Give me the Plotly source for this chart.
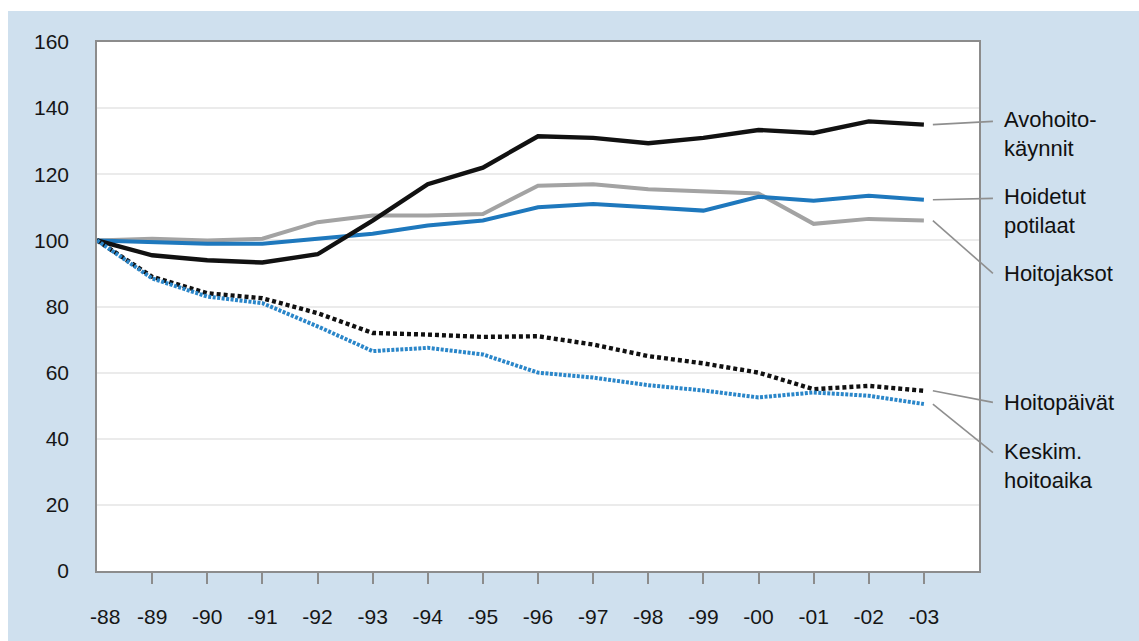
import plotly.graph_objects as go

# Index series, 1988 = 100
years = list(range(1988, 2004))
year_labels = ["-88", "-89", "-90", "-91", "-92", "-93", "-94", "-95",
               "-96", "-97", "-98", "-99", "-00", "-01", "-02", "-03"]

avohoitokaynnit = [100, 95.5, 94, 93.3, 95.8, 106, 117, 122,
                   131.5, 131, 129.4, 131, 133.4, 132.5, 136, 135]
hoidetut_potilaat = [100, 99.5, 99, 99, 100.5, 102, 104.5, 106,
                     110, 111, 110, 109, 113.2, 112, 113.5, 112.3]
hoitojaksot = [100, 100.5, 100, 100.5, 105.5, 107.5, 107.5, 108,
               116.5, 117, 115.5, 114.8, 114.2, 105, 106.5, 106]
hoitopaivat = [100, 89, 84, 82.5, 78, 72, 71.5, 70.8,
               71, 68.5, 65, 62.8, 60, 55, 56, 54.5]
keskim_hoitoaika = [100, 88.5, 83, 81, 74, 66.5, 67.5, 65.5,
                    60, 58.5, 56.2, 54.6, 52.5, 54, 53, 50.5]

# Right-hand series labels and the y level (data units) of each label's first line
label_texts = ["Avohoito-<br>käynnit", "Hoidetut<br>potilaat", "Hoitojaksot",
               "Hoitopäivät", "Keskim.<br>hoitoaika"]
label_levels = [136, 112.7, 90, 51, 35.8]

W, H = 1139, 641
M_L, M_R, M_T, M_B = 97, 160, 42, 70
X_RANGE = [1988, 2004]
Y_RANGE = [0, 160]
PLOT_W = W - M_L - M_R
PLOT_H = H - M_T - M_B

BLUE_BG = "#cfe0ee"
AXIS_GREY = "#8c8c8c"
FONT = "Liberation Sans, Arial, Helvetica, sans-serif"
TEXT_COLOR = "#161616"

fig = go.Figure()

series = [
    (hoitojaksot, dict(color="#a3a3a3", width=4)),
    (hoidetut_potilaat, dict(color="#1e78bd", width=4)),
    (avohoitokaynnit, dict(color="#111111", width=4.4)),
    (hoitopaivat, dict(color="#111111", width=4.4, dash="4px,3px")),
    (keskim_hoitoaika, dict(color="#2a86c9", width=4, dash="3px,1.5px")),
]
for values, line in series:
    fig.add_trace(go.Scatter(x=years, y=values, mode="lines", line=line,
                             hoverinfo="skip", showlegend=False))


def to_paper_x(xv):
    return (xv - X_RANGE[0]) / (X_RANGE[1] - X_RANGE[0])


label_x = 1.026
line_h_units = 26 / PLOT_H * (Y_RANGE[1] - Y_RANGE[0])
ends = [avohoitokaynnit[-1], hoidetut_potilaat[-1], hoitojaksot[-1],
        hoitopaivat[-1], keskim_hoitoaika[-1]]
shapes = []
annotations = []
for text, level, end in zip(label_texts, label_levels, ends):
    n_lines = text.count("<br>") + 1
    annotations.append(dict(
        x=label_x, xref="paper", y=level - (n_lines - 1) * line_h_units / 2,
        yref="y", text=text, showarrow=False, xanchor="left",
        yanchor="middle", align="left",
        font=dict(family=FONT, size=22, color="#111111")))
    # thin grey leader from the series end to its label
    shapes.append(dict(
        type="line", xref="paper", yref="y",
        x0=to_paper_x(years[-1]) + 9 / PLOT_W, y0=end,
        x1=label_x - 9 / PLOT_W, y1=level,
        line=dict(color="#8f8f8f", width=1.6)))

# the first year sits on the y axis, so it gets no tick and a nudged label
annotations.append(dict(
    x=years[0], xref="x", y=0, yref="paper", text=year_labels[0],
    showarrow=False, xanchor="center", yanchor="middle",
    xshift=8, yshift=-45, font=dict(family=FONT, size=21, color=TEXT_COLOR)))

# white strips along the top and left edge of the page
shapes.append(dict(type="rect", xref="paper", yref="paper", layer="below",
                   x0=-M_L / PLOT_W, x1=-(M_L - 8) / PLOT_W,
                   y0=-M_B / PLOT_H, y1=(PLOT_H + M_T) / PLOT_H,
                   fillcolor="white", line=dict(width=0)))
shapes.append(dict(type="rect", xref="paper", yref="paper", layer="below",
                   x0=-M_L / PLOT_W, x1=(PLOT_W + M_R) / PLOT_W,
                   y0=(PLOT_H + M_T - 11) / PLOT_H, y1=(PLOT_H + M_T) / PLOT_H,
                   fillcolor="white", line=dict(width=0)))

fig.update_layout(
    width=W, height=H, autosize=False,
    margin=dict(l=M_L, r=M_R, t=M_T, b=M_B, pad=0),
    paper_bgcolor=BLUE_BG, plot_bgcolor="white",
    font=dict(family=FONT, size=21, color=TEXT_COLOR),
    shapes=shapes, annotations=annotations,
    xaxis=dict(range=X_RANGE, tickvals=years[1:], ticktext=year_labels[1:],
               ticks="outside", ticklen=11, tickwidth=1.5, tickcolor=AXIS_GREY,
               showgrid=False, zeroline=False, showline=True,
               linecolor=AXIS_GREY, linewidth=1.5, mirror=True,
               ticklabelstandoff=15, tickfont=dict(size=21)),
    yaxis=dict(range=Y_RANGE, dtick=20, showgrid=True, gridcolor="#ebebeb",
               gridwidth=2, zeroline=False, showline=True,
               linecolor=AXIS_GREY, linewidth=1.5, mirror=True,
               ticks="", ticklabelstandoff=22, tickfont=dict(size=21)),
)

fig.write_html("out.html")
